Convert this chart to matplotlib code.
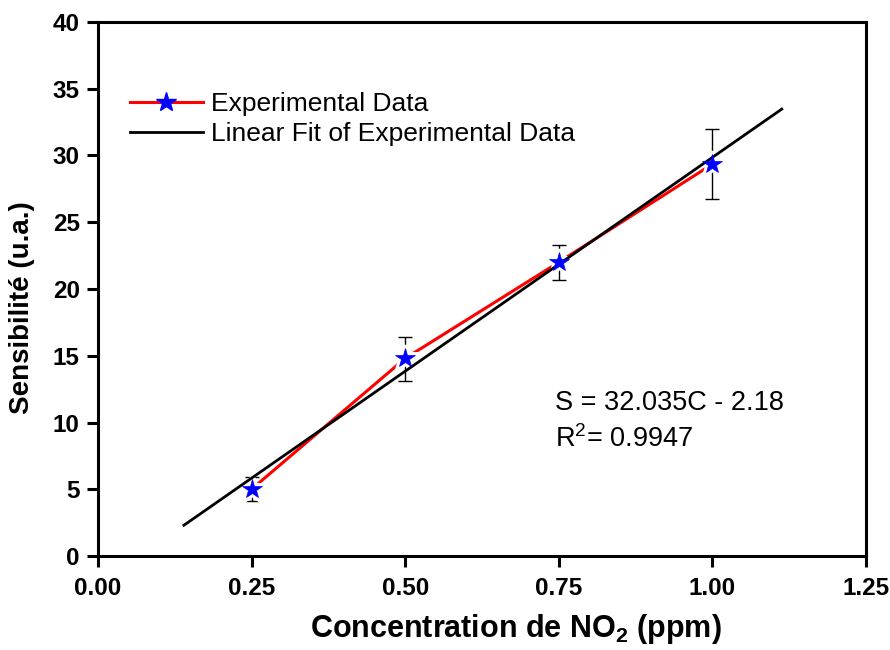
import numpy as np
import matplotlib
matplotlib.use('Agg')
import matplotlib.pyplot as plt

plt.rcParams['font.family'] = ['Liberation Sans', 'DejaVu Sans']
plt.rcParams['mathtext.default'] = 'regular'

# données expérimentales
concentration = [0.25, 0.50, 0.75, 1.00]
sensibilite = [5.0, 14.8, 22.0, 29.35]
err_bas = [0.9, 1.7, 1.3, 2.6]
err_haut = [0.9, 1.6, 1.3, 2.6]

# ajustement linéaire
pente = 32.035
ordonnee = -2.18
fit_debut = 0.14
fit_fin = 1.113

fig = plt.figure(figsize=(8.9, 6.5), dpi=100)
ax = fig.add_axes([0.110, 0.1446, 0.863, 0.8216])

x_fit = np.array([fit_debut, fit_fin])
ax.errorbar(concentration, sensibilite, yerr=[err_bas, err_haut], fmt='none',
            ecolor='black', elinewidth=1.0, capsize=5, capthick=1.0, zorder=1)
ax.plot(concentration, sensibilite, color='red', lw=2.2, zorder=2)
# contour blanc pour couper la ligne rouge autour des étoiles
ax.plot(concentration, sensibilite, ls='none', marker='*', ms=19,
        mfc='white', mec='white', mew=3.5, zorder=3)
ax.plot(x_fit, pente * x_fit + ordonnee, color='black', lw=2.0, zorder=4)
ax.plot(concentration, sensibilite, ls='none', marker='*', ms=15,
        mfc='blue', mec='blue', mew=0.5, zorder=5)

# legende
h1, = ax.plot([], [], color='red', lw=2.2, marker='*', ms=15, mfc='blue', mec='blue')
h2, = ax.plot([], [], color='black', lw=2.0)
ax.legend([h1, h2], ['Experimental Data', 'Linear Fit of Experimental Data'],
          loc='upper left', bbox_to_anchor=(0.042, 0.868), frameon=False,
          borderpad=0, borderaxespad=0, fontsize=19, handlelength=2.75,
          handletextpad=0.3, labelspacing=0.22)

ax.text(0.595, 0.273, 'S = 32.035C - 2.18', transform=ax.transAxes,
        fontsize=19.5, va='baseline')
ax.text(0.595, 0.204, 'R$^2$= 0.9947', transform=ax.transAxes,
        fontsize=19.5, va='baseline')

ax.set_xlim(0, 1.25)
ax.set_ylim(0, 40)
ax.set_xticks([0.00, 0.25, 0.50, 0.75, 1.00, 1.25])
ax.set_xticklabels(['0.00', '0.25', '0.50', '0.75', '1.00', '1.25'])
ax.set_yticks(range(0, 41, 5))

for s in ax.spines.values():
    s.set_linewidth(2.2)
ax.tick_params(direction='out', length=8, width=2.2, labelsize=17.5)
ax.tick_params(axis='x', pad=7)
ax.tick_params(axis='y', pad=5)
for lab in ax.get_xticklabels() + ax.get_yticklabels():
    lab.set_fontweight('bold')

ax.set_xlabel('Concentration de NO$_2$ (ppm)', fontsize=22, fontweight='bold')
ax.set_ylabel('Sensibilité (u.a.)', fontsize=20, fontweight='bold')
ax.xaxis.set_label_coords(0.544, -0.105)
ax.yaxis.set_label_coords(-0.082, 0.466)

fig.savefig('out.png', dpi=100)
